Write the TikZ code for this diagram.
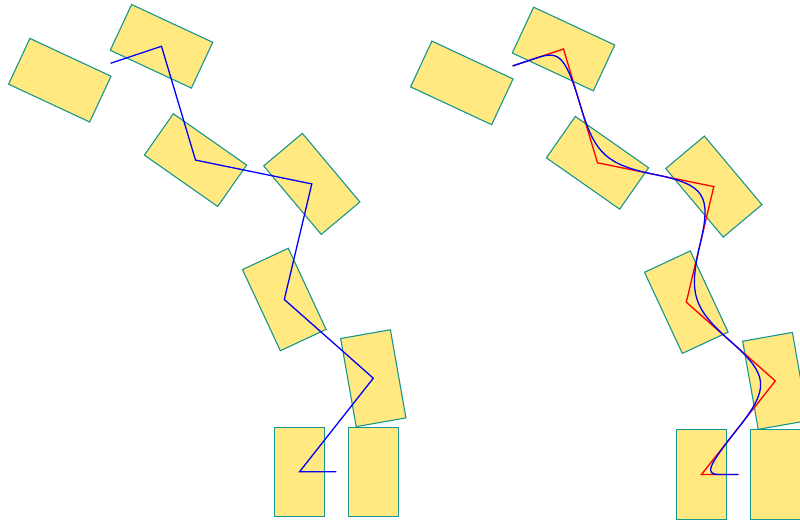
\documentclass[tikz,border=0pt]{standalone}
\usetikzlibrary{calc}
\definecolor{blockfill}{HTML}{FFE980}
\definecolor{blockline}{HTML}{17968E}
\tikzset{
  block/.style={draw=blockline, fill=blockfill, line width=1.1pt,
    minimum width=89.5pt, minimum height=50.5pt, inner sep=0pt, outer sep=0pt},
  bluearm/.style={draw=blue, line width=1.3pt, line join=miter},
  redarm/.style={draw=red, line width=1.3pt, line join=miter}
}
\newcommand\drawblocks[1]{%
  \node[block, rotate=-25] (#1A) at (59.8,442.8) {};
  \node[block, rotate=-25] (#1B) at (161.5,476.7) {};
  \node[block, rotate=-35] (#1C) at (195.5,362.9) {};
  \node[block, rotate=-50] (#1D) at (311.8,339.1) {};
  \node[block, rotate=-65] (#1E) at (284.3,223.5) {};
  \node[block, rotate=-80] (#1F) at (373.3,144.8) {};
  \node[block, rotate=-90] (#1G) at (299.5,51.2) {};
  \node[block, rotate=-90] (#1H) at (373.3,51.2) {};
  \coordinate (#1S) at ($(#1A.center)!.5!(#1B.center)$);
  \coordinate (#1T) at ($(#1G.center)!.5!(#1H.center)$);
}
\begin{document}
\begin{tikzpicture}[x=1pt,y=1pt]
\useasboundingbox (0,0) rectangle (800,523);
\clip (0,0) rectangle (800,523);
% left panel
\drawblocks{l}
\draw[bluearm] (lS) -- (lB.center) -- (lC.center) -- (lD.center) -- (lE.center)
  -- (lF.center) -- (lG.center) -- (lT);
% right panel
\begin{scope}[shift={(402,-2.7)}]
\drawblocks{r}
\end{scope}
\draw[redarm] (rS) -- (rB.center) -- (rC.center) -- (rD.center) -- (rE.center)
  -- (rF.center) -- (rG.center) -- (rT);
\coordinate (m1) at ($(rS)!.5!(rB.center)$);
\coordinate (m2) at ($(rB.center)!.5!(rC.center)$);
\coordinate (m3) at ($(rC.center)!.5!(rD.center)$);
\coordinate (m4) at ($(rD.center)!.5!(rE.center)$);
\coordinate (m5) at ($(rE.center)!.5!(rF.center)$);
\coordinate (m6) at ($(rF.center)!.5!(rG.center)$);
\coordinate (m7) at ($(rG.center)!.5!(rT)$);
\draw[bluearm] (rS) -- (m1)
  .. controls ($(m1)!.85!(rB.center)$) and ($(m2)!.85!(rB.center)$) .. (m2)
  .. controls ($(m2)!.85!(rC.center)$) and ($(m3)!.85!(rC.center)$) .. (m3)
  .. controls ($(m3)!.85!(rD.center)$) and ($(m4)!.85!(rD.center)$) .. (m4)
  .. controls ($(m4)!.85!(rE.center)$) and ($(m5)!.85!(rE.center)$) .. (m5)
  .. controls ($(m5)!.85!(rF.center)$) and ($(m6)!.85!(rF.center)$) .. (m6)
  .. controls ($(m6)!.85!(rG.center)$) and ($(m7)!.85!(rG.center)$) .. (m7)
  -- (rT);
\end{tikzpicture}
\end{document}
